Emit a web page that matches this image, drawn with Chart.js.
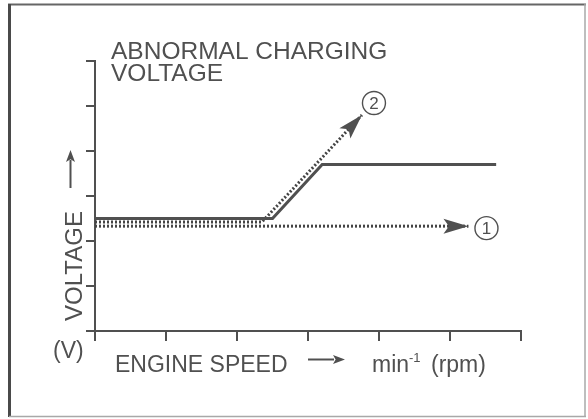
<!DOCTYPE html>
<html>
<head>
<meta charset="utf-8">
<script src="https://cdn.jsdelivr.net/npm/chart.js@4.4.1/dist/chart.umd.min.js"></script>
<style>
  html, body { margin: 0; padding: 0; background: #fff; }
  #wrap { width: 588px; height: 419px; }
</style>
</head>
<body>
<div id="wrap"><canvas id="chart" width="588" height="419"></canvas></div>
<script>
// axis ticks (no numbers on the original, just marks)
const speedTicks = [0, 1, 2, 3, 4, 5, 6];
const voltageTicks = [0, 1, 2, 3, 4, 5, 6];

// normal regulated voltage (solid)
const normalX = [0, 2.5, 3.2, 5.65];
const normalY = [2.5, 2.5, 3.7, 3.7];
// case 1: voltage stays low (dotted, arrow)
const case1X = [0, 5.26];
const case1Y = [2.33, 2.33];
// case 2: voltage keeps rising (dotted, arrow)
const case2X = [0, 2.35, 3.76];
const case2Y = [2.42, 2.42, 4.8];

const caseLabels = ['1', '2'];

const INK = '#505050';
const FONT = '"Liberation Sans", Arial, sans-serif';

const toPoints = (xs, ys) => xs.map((x, i) => ({x: x, y: ys[i]}));

function arrowHead(ctx, x, y, angle, len, half) {
  ctx.save();
  ctx.translate(x, y);
  ctx.rotate(angle);
  ctx.beginPath();
  ctx.moveTo(0, 0);
  ctx.lineTo(-len, -half);
  ctx.lineTo(-len * 0.78, 0);
  ctx.lineTo(-len, half);
  ctx.closePath();
  ctx.fill();
  ctx.restore();
}

const diagramPlugin = {
  id: 'diagram',
  beforeDraw(chart) {
    const ctx = chart.ctx;
    ctx.save();
    ctx.fillStyle = '#fff';
    ctx.fillRect(0, 0, chart.width, chart.height);
    // frame
    ctx.strokeStyle = '#666';
    ctx.lineWidth = 2;
    ctx.beginPath(); ctx.moveTo(8, 4.5); ctx.lineTo(586, 4.5); ctx.stroke();
    ctx.strokeStyle = '#4a4a4a';
    ctx.lineWidth = 3;
    ctx.beginPath(); ctx.moveTo(9.5, 4); ctx.lineTo(9.5, 417); ctx.stroke();
    ctx.strokeStyle = '#a8a8a8';
    ctx.lineWidth = 1.5;
    ctx.beginPath(); ctx.moveTo(585, 4); ctx.lineTo(585, 417); ctx.stroke();
    ctx.beginPath(); ctx.moveTo(9, 416.5); ctx.lineTo(586, 416.5); ctx.stroke();
    ctx.restore();
  },
  afterDatasetsDraw(chart) {
    const ctx = chart.ctx;
    ctx.save();
    ctx.fillStyle = INK;
    ctx.strokeStyle = INK;
    const offsets = [[18, 2], [12, -12]];
    [1, 2].forEach((di, k) => {
      const pts = chart.getDatasetMeta(di).data;
      const a = pts[pts.length - 2], b = pts[pts.length - 1];
      const ang = Math.atan2(b.y - a.y, b.x - a.x);
      arrowHead(ctx, b.x, b.y, ang, 25, 7.5);
      const cx = b.x + offsets[k][0], cy = b.y + offsets[k][1];
      ctx.lineWidth = 1.4;
      ctx.beginPath();
      ctx.arc(cx, cy, 11.5, 0, Math.PI * 2);
      ctx.stroke();
      ctx.font = '17px ' + FONT;
      ctx.textAlign = 'center';
      ctx.textBaseline = 'middle';
      ctx.fillText(caseLabels[k], cx, cy + 1);
    });
    ctx.restore();
  },
  afterDraw(chart) {
    const ctx = chart.ctx;
    ctx.save();
    ctx.fillStyle = INK;
    ctx.strokeStyle = INK;
    ctx.textBaseline = 'alphabetic';
    ctx.textAlign = 'left';
    // title
    ctx.font = '24.5px ' + FONT;
    ctx.fillText('ABNORMAL CHARGING', 111, 59);
    ctx.fillText('VOLTAGE', 111, 81);
    // y title
    ctx.save();
    ctx.translate(82, 266);
    ctx.rotate(-Math.PI / 2);
    ctx.font = '24px ' + FONT;
    ctx.textAlign = 'center';
    ctx.fillText('VOLTAGE', 0, 0);
    ctx.restore();
    ctx.lineWidth = 2;
    ctx.beginPath(); ctx.moveTo(70.5, 188); ctx.lineTo(70.5, 160); ctx.stroke();
    arrowHead(ctx, 70.5, 150, -Math.PI / 2, 12, 4.5);
    // unit
    ctx.font = '23px ' + FONT;
    ctx.fillText('(V)', 53, 358);
    // x title
    ctx.fillText('ENGINE SPEED', 115, 372);
    ctx.beginPath(); ctx.moveTo(308, 359.5); ctx.lineTo(334, 359.5); ctx.stroke();
    arrowHead(ctx, 345, 359.5, 0, 12, 4.5);
    ctx.fillText('min', 372, 372);
    ctx.font = '13px ' + FONT;
    ctx.fillText('-1', 409, 362);
    ctx.font = '23px ' + FONT;
    ctx.fillText('(rpm)', 431, 372);
    ctx.restore();
  }
};

const axisCommon = {
  type: 'linear',
  min: 0,
  max: 6,
  ticks: {display: false},
  grid: {drawOnChartArea: false, drawTicks: true, tickLength: 10, color: INK, lineWidth: 2},
  border: {display: true, color: INK, width: 2}
};

new Chart(document.getElementById('chart'), {
  type: 'scatter',
  data: {
    datasets: [
      {
        data: toPoints(normalX, normalY),
        showLine: true,
        borderColor: INK,
        borderWidth: 3,
        pointRadius: 0
      },
      {
        data: toPoints(case1X, case1Y),
        showLine: true,
        borderColor: '#444',
        borderWidth: 3,
        borderDash: [2, 2],
        pointRadius: 0
      },
      {
        data: toPoints(case2X, case2Y),
        showLine: true,
        borderColor: '#444',
        borderWidth: 3,
        borderDash: [2, 2],
        pointRadius: 0
      }
    ]
  },
  options: {
    responsive: false,
    animation: false,
    devicePixelRatio: 1,
    layout: {padding: {left: 86, top: 61, right: 67, bottom: 78}},
    plugins: {legend: {display: false}, tooltip: {enabled: false}},
    scales: {
      x: Object.assign({}, axisCommon, {
        afterBuildTicks: (s) => { s.ticks = speedTicks.map((v) => ({value: v})); }
      }),
      y: Object.assign({}, axisCommon, {
        grid: Object.assign({}, axisCommon.grid, {tickLength: 9}),
        afterBuildTicks: (s) => { s.ticks = voltageTicks.map((v) => ({value: v})); }
      })
    }
  },
  plugins: [diagramPlugin]
});
</script>
</body>
</html>
